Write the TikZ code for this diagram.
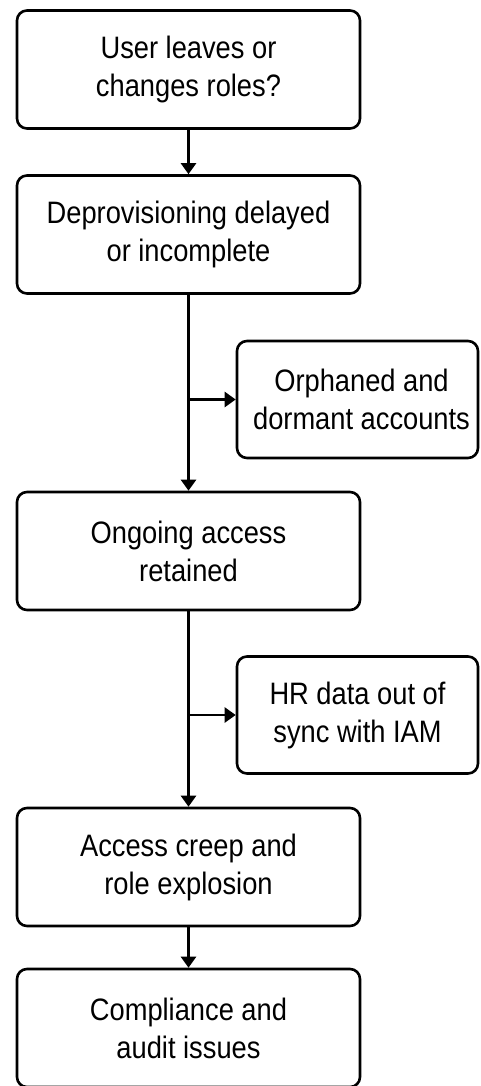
\documentclass[tikz,border=0pt]{standalone}
\usepackage{fontspec}
\setmainfont[FakeStretch=0.88]{Liberation Sans}
\usetikzlibrary{arrows.meta}
\begin{document}
\begin{tikzpicture}[x=1pt,y=-1pt,
  box/.style={draw=black, line width=2.6pt, rounded corners=10pt, fill=white,
    align=center, inner sep=0pt, font=\fontsize{31}{38}\selectfont},
  mainbox/.style={box, minimum width=343pt, minimum height=118pt},
  sidebox/.style={box, minimum width=241pt, minimum height=117pt},
  flow/.style={line width=2.4pt, -{Triangle[length=11pt,width=15pt]}}
]
\useasboundingbox[fill=white] (0,0) rectangle (480,1086);

\node[mainbox] (b1) at (188.5,69.5) {User leaves or\\changes roles?};
\node[mainbox] (b2) at (188.5,234.5) {Deprovisioning delayed\\or incomplete};
\node[sidebox] (s1) at (357.5,399.5) {\hspace*{8pt}Orphaned and\\\hspace*{8pt}dormant accounts};
\node[mainbox] (b3) at (188.5,551) {Ongoing access\\retained};
\node[sidebox] (s2) at (357.5,715) {HR data out of\\sync with IAM};
\node[mainbox] (b4) at (188.5,867) {Access creep and\\role explosion};
\node[mainbox] (b5) at (188.5,1028) {Compliance and\\audit issues};

\draw[flow] (b1.south) -- (b2.north);
\draw[flow] (b2.south) -- (b3.north);
\draw[flow] (b2.south |- s1.west) -- (s1.west);
\draw[flow] (b3.south) -- (b4.north);
\draw[flow] (b3.south |- s2.west) -- (s2.west);
\draw[flow] (b4.south) -- (b5.north);
\end{tikzpicture}
\end{document}
